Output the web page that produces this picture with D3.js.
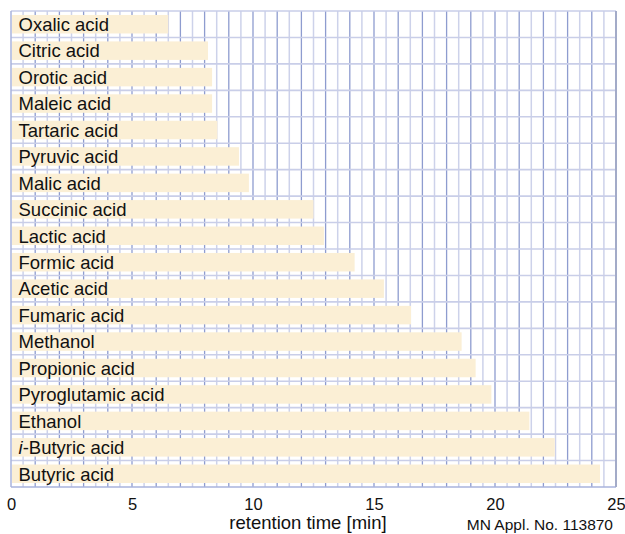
<!DOCTYPE html>
<html>
<head>
<meta charset="utf-8">
<script src="https://cdn.jsdelivr.net/npm/d3@7"></script>
<style>
  body { margin: 0; background: #fff; }
  text { font-family: "Liberation Sans", Arial, Helvetica, sans-serif; }
</style>
</head>
<body>
<div id="chart"></div>
<script>
// compounds, top to bottom
var compounds = ["Oxalic acid", "Citric acid", "Orotic acid", "Maleic acid", "Tartaric acid",
  "Pyruvic acid", "Malic acid", "Succinic acid", "Lactic acid", "Formic acid", "Acetic acid",
  "Fumaric acid", "Methanol", "Propionic acid", "Pyroglutamic acid", "Ethanol",
  "i-Butyric acid", "Butyric acid"];
// retention time [min]
var retention = [6.5, 8.14, 8.31, 8.31, 8.53, 9.42, 9.83, 12.5, 12.93, 14.2, 15.41,
  16.53, 18.62, 19.2, 19.85, 21.42, 22.47, 24.34];
var xTicks = [0, 5, 10, 15, 20, 25];

var width = 625, height = 534;
var pLeft = 11, pRight = 616, pTop = 11, pBottom = 487;

var svg = d3.select('#chart').append('svg')
    .attr('width', width)
    .attr('height', height);

var x = d3.scaleLinear().domain([0, 25]).range([pLeft, pRight]);
var y = d3.scaleBand().domain(compounds).range([pTop, pBottom]).paddingInner(0.3).paddingOuter(0.15);

// half-minute grid (light) and minute grid (darker)
var halfLines = d3.range(0.5, 25, 1);
var minLines = d3.range(1, 25, 1);

svg.selectAll('.gh').data(halfLines).enter().append('line')
    .attr('x1', function(d) { return x(d); })
    .attr('x2', function(d) { return x(d); })
    .attr('y1', pTop).attr('y2', pBottom)
    .style('stroke', '#cdd2ea').style('stroke-width', 1.5);

svg.selectAll('.gm').data(minLines).enter().append('line')
    .attr('x1', function(d) { return x(d); })
    .attr('x2', function(d) { return x(d); })
    .attr('y1', pTop).attr('y2', pBottom)
    .style('stroke', '#8e9ccf').style('stroke-width', 1.3);

// row separators
var step = y.step();
var rowLines = d3.range(1, compounds.length);
svg.selectAll('.gr').data(rowLines).enter().append('line')
    .attr('x1', pLeft).attr('x2', pRight)
    .attr('y1', function(d) { return pTop + d * step; })
    .attr('y2', function(d) { return pTop + d * step; })
    .style('stroke', '#c9cee8').style('stroke-width', 1.6);

// bars
svg.selectAll('.bar').data(compounds).enter().append('rect')
    .attr('x', x(0) + 1)
    .attr('y', function(d) { return y(d); })
    .attr('width', function(d, i) { return x(retention[i]) - x(0) - 1; })
    .attr('height', y.bandwidth())
    .style('fill', '#fbefd5');

// labels
svg.selectAll('.lab').data(compounds).enter().append('text')
    .attr('x', 18.5)
    .attr('y', function(d) { return y(d) + y.bandwidth() / 2 + 6.8; })
    .style('font-size', '18.5px')
    .style('fill', '#111')
    .each(function(d) {
        var t = d3.select(this);
        if (d.indexOf('i-') === 0) {
            t.append('tspan').style('font-style', 'italic').text('i');
            t.append('tspan').text(d.slice(1));
        } else {
            t.text(d);
        }
    });

// frame
svg.append('line').attr('x1', pLeft).attr('x2', pRight).attr('y1', pTop).attr('y2', pTop)
    .style('stroke', '#c9cee8').style('stroke-width', 1.6);
svg.append('line').attr('x1', pLeft).attr('x2', pRight).attr('y1', pBottom).attr('y2', pBottom)
    .style('stroke', '#a9b3dc').style('stroke-width', 1.5);
svg.append('line').attr('x1', pLeft).attr('x2', pLeft).attr('y1', pTop).attr('y2', pBottom)
    .style('stroke', '#a9b3dc').style('stroke-width', 1.5);
svg.append('line').attr('x1', pRight).attr('x2', pRight).attr('y1', pTop).attr('y2', pBottom)
    .style('stroke', '#a3abc8').style('stroke-width', 2);

// x axis labels
var axis = d3.axisBottom(x).tickValues(xTicks).tickSize(0).tickPadding(0);
var ax = svg.append('g').attr('transform', 'translate(0,' + pBottom + ')').call(axis);
ax.select('.domain').remove();
ax.selectAll('text')
    .attr('y', 23)
    .attr('dy', 0)
    .style('font-size', '16.5px')
    .style('font-family', '"Liberation Sans", Arial, sans-serif')
    .style('fill', '#111');

svg.append('text')
    .attr('x', 308).attr('y', 529)
    .attr('text-anchor', 'middle')
    .style('font-size', '18.5px')
    .style('fill', '#111')
    .text('retention time [min]');

svg.append('text')
    .attr('x', 613).attr('y', 530)
    .attr('text-anchor', 'end')
    .style('font-size', '15.5px')
    .style('fill', '#111')
    .text('MN Appl. No. 113870');
</script>
</body>
</html>
